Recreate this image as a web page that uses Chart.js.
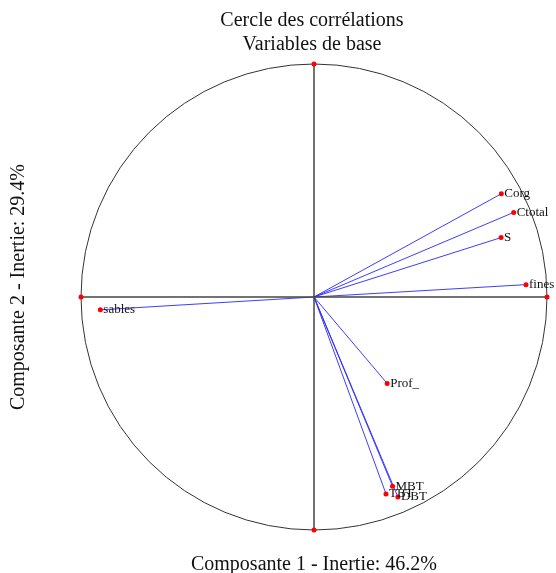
<!DOCTYPE html>
<html>
<head>
<meta charset="utf-8">
<script src="https://cdn.jsdelivr.net/npm/chart.js@4"></script>
<style>
  body { margin: 0; background: #fff; }
  canvas { display: block; }
</style>
</head>
<body>
<canvas id="chart" width="556" height="573"></canvas>
<script>
// variables and their correlations with the first two components
const variables = ['Corg', 'Ctotal', 'S', 'fines', 'sables', 'Prof_', 'MBT', 'TBT', 'DBT'];
const comp1 = [0.804, 0.857, 0.803, 0.910, -0.917, 0.314, 0.337, 0.309, 0.360];
const comp2 = [0.443, 0.363, 0.255, 0.053, -0.055, -0.371, -0.812, -0.845, -0.858];

// ends of the two axes of the circle
const axisEndsX = [-1, 1];
const axisEndsY = [-1, 1];

const titleLines = ['Cercle des corrélations', 'Variables de base'];
const xTitle = 'Composante 1 - Inertie: 46.2%';
const yTitle = 'Composante 2 - Inertie: 29.4%';

const datasets = [];

// horizontal and vertical axes
datasets.push({
    data: axisEndsX.map(v => ({ x: v, y: 0 })),
    borderColor: '#444', borderWidth: 1.5, clip: false,
    pointRadius: 2.5, pointBackgroundColor: '#f00', pointBorderWidth: 0
});
datasets.push({
    data: axisEndsY.map(v => ({ x: 0, y: v })),
    borderColor: '#444', borderWidth: 1.5, clip: false,
    pointRadius: 2.5, pointBackgroundColor: '#f00', pointBorderWidth: 0
});

// one vector per variable, from the origin
variables.forEach((name, i) => {
    datasets.push({
        label: name,
        data: [{ x: 0, y: 0 }, { x: comp1[i], y: comp2[i] }],
        borderColor: 'rgba(40,40,255,0.9)', borderWidth: 1, clip: false,
        pointRadius: [0, 2.5], pointBackgroundColor: '#f00', pointBorderWidth: 0
    });
});

const circlePlugin = {
    id: 'circle',
    beforeDatasetsDraw(chart) {
        const { ctx, scales: { x, y } } = chart;
        const cx = x.getPixelForValue(0);
        const cy = y.getPixelForValue(0);
        const r = x.getPixelForValue(1) - cx;
        ctx.save();
        ctx.strokeStyle = '#333';
        ctx.lineWidth = 1;
        ctx.beginPath();
        ctx.arc(cx, cy, r, 0, Math.PI * 2);
        ctx.stroke();
        ctx.restore();
    }
};

const textPlugin = {
    id: 'texts',
    afterDatasetsDraw(chart) {
        const { ctx, scales: { x, y } } = chart;
        ctx.save();
        ctx.fillStyle = '#111';
        ctx.textBaseline = 'middle';
        ctx.textAlign = 'left';
        ctx.font = '13px "Liberation Serif", "Times New Roman", serif';
        variables.forEach((name, i) => {
            ctx.fillText(name, x.getPixelForValue(comp1[i]) + 3, y.getPixelForValue(comp2[i]));
        });

        ctx.textAlign = 'center';
        ctx.font = '20px "Liberation Serif", "Times New Roman", serif';
        ctx.fillText(titleLines[0], 312, 21);
        ctx.fillText(titleLines[1], 312, 45);
        ctx.fillText(xTitle, 314, 565);

        ctx.translate(19, 287);
        ctx.rotate(-Math.PI / 2);
        ctx.fillText(yTitle, 0, 0);
        ctx.restore();
    }
};

new Chart(document.getElementById('chart'), {
    type: 'scatter',
    data: { datasets: datasets },
    options: {
        responsive: false,
        animation: false,
        showLine: true,
        layout: { padding: { left: 81, right: 9, top: 64, bottom: 43 } },
        scales: {
            x: { display: false, min: -1, max: 1 },
            y: { display: false, min: -1, max: 1 }
        },
        plugins: { legend: { display: false }, tooltip: { enabled: false } },
        elements: { line: { tension: 0 } }
    },
    plugins: [circlePlugin, textPlugin]
});
</script>
</body>
</html>
